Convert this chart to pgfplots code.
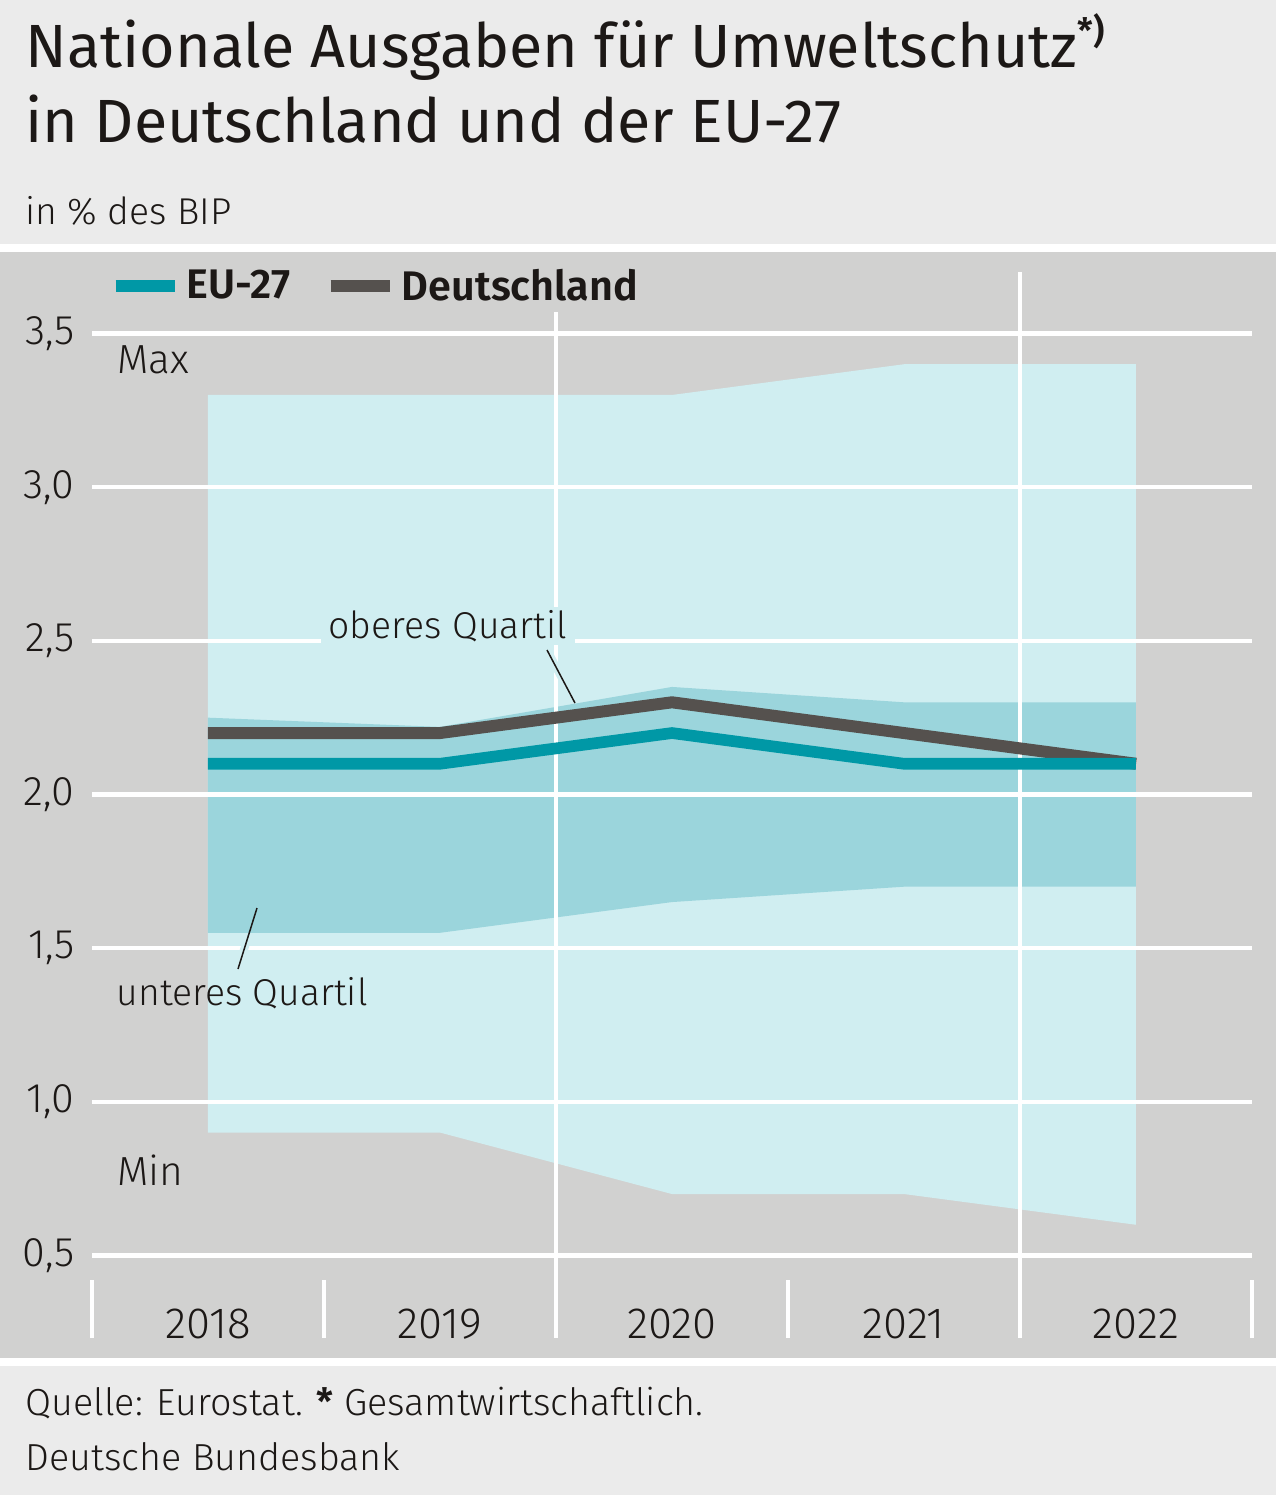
\documentclass[border=0pt]{standalone}
\usepackage{fontspec}
\setmainfont{Fira Sans}[UprightFont={* Light}, BoldFont={* SemiBold}]
\newfontfamily\titlefont{Fira Sans}[BoldFont={* SemiBold}]
\newfontfamily\legfont{Fira Sans}[UprightFont={* SemiBold}]
\usepackage{pgfplots}
\pgfplotsset{compat=1.18}
\definecolor{topbg}{RGB}{235,235,235}
\definecolor{plotbg}{RGB}{209,209,208}
\definecolor{lightband}{RGB}{208,238,241}
\definecolor{darkband}{RGB}{155,213,220}
\definecolor{euteal}{RGB}{0,152,166}
\definecolor{degray}{RGB}{85,81,78}
\definecolor{txt}{RGB}{28,24,22}
\begin{document}
\begin{tikzpicture}
\begin{scope}[x=0.3pt,y=-0.3pt]
\fill[topbg] (0,0) rectangle (1276,1495);
\fill[white] (0,244) rectangle (1276,252);
\fill[plotbg] (0,252) rectangle (1276,1358);
\fill[white] (0,1358) rectangle (1276,1366);
\end{scope}
\begin{axis}[
  at={(27.6pt,-376.65pt)}, anchor=south west,
  width=348pt, height=276.6pt, scale only axis,
  xmin=-0.5, xmax=4.5, ymin=0.5, ymax=3.5,
  clip=false,
  axis line style={draw=none},
  major tick length=0pt, tick style={draw=none},
  xtick={0,1,2,3,4}, xticklabels={2018,2019,2020,2021,2022},
  ytick={0.5,1,1.5,2,2.5,3,3.5},
  yticklabels={{0,5},{1,0},{1,5},{2,0},{2,5},{3,0},{3,5}},
  /pgf/number format/assume math mode=true,
  xticklabel style={anchor=base, yshift=-24.9pt, inner sep=0pt, font=\fontsize{13.1pt}{14pt}\selectfont, text=txt},
  yticklabel style={anchor=east, inner sep=0pt, xshift=-5.1pt, font=\fontsize{12.4pt}{13pt}\selectfont, text=txt},
  legend columns=2,
  legend image code/.code={\draw[#1, line width=3.4pt] (0pt,0.35pt) -- (17.7pt,0.35pt);},
  legend style={at={(axis description cs:0.0149,1.0228)}, anchor=south west,
    draw=none, fill=plotbg, inner xsep=0pt, inner ysep=0pt,
    font=\legfont\fontsize{12.4pt}{14pt}\selectfont, text=txt,
    nodes={inner sep=2pt},
    /tikz/every even column/.append style={column sep=8.4pt}},
]
% Min/Max band
\addplot[fill=lightband, draw=none, forget plot] coordinates {(0,3.3) (1,3.3) (2,3.3) (3,3.4) (4,3.4) (4,0.6) (3,0.7) (2,0.7) (1,0.9) (0,0.9)};
% quartile band
\addplot[fill=darkband, draw=none, forget plot] coordinates {(0,2.25) (1,2.22) (2,2.35) (3,2.3) (4,2.3) (4,1.7) (3,1.7) (2,1.65) (1,1.55) (0,1.55)};
% grid
\draw[white, line width=1.35pt] (axis cs:-0.5,0.5) -- (axis cs:4.5,0.5);
\draw[white, line width=1.35pt] (axis cs:-0.5,1.0) -- (axis cs:4.5,1.0);
\draw[white, line width=1.35pt] (axis cs:-0.5,1.5) -- (axis cs:4.5,1.5);
\draw[white, line width=1.35pt] (axis cs:-0.5,2.0) -- (axis cs:4.5,2.0);
\draw[white, line width=1.35pt] (axis cs:-0.5,2.5) -- (axis cs:4.5,2.5);
\draw[white, line width=1.35pt] (axis cs:-0.5,3.0) -- (axis cs:4.5,3.0);
\draw[white, line width=1.35pt] (axis cs:-0.5,3.5) -- (axis cs:4.5,3.5);
\draw[white, line width=1.35pt] (axis cs:1.5,0.2316) -- (axis cs:1.5,3.70);
\draw[white, line width=1.35pt] (axis cs:3.5,0.2316) -- (axis cs:3.5,3.70);
\draw[white, line width=1.2pt] (axis cs:-0.5,0.2316) -- (axis cs:-0.5,0.420);
\draw[white, line width=1.2pt] (axis cs:0.5,0.2316) -- (axis cs:0.5,0.420);
\draw[white, line width=1.2pt] (axis cs:2.5,0.2316) -- (axis cs:2.5,0.420);
\draw[white, line width=1.2pt] (axis cs:4.5,0.2316) -- (axis cs:4.5,0.420);
% lines
\addplot[degray, line width=3.6pt, forget plot] coordinates {(0,2.2) (1,2.2) (2,2.3) (3,2.2) (4,2.1)};
\addplot[euteal, line width=3.5pt, forget plot] coordinates {(0,2.1) (1,2.1) (2,2.2) (3,2.1) (4,2.1)};
\addlegendimage{euteal}
\addlegendentry{EU-27}
\addlegendimage{degray}
\addlegendentry{Deutschland}
\end{axis}
\begin{scope}[x=0.3pt,y=-0.3pt, every node/.style={anchor=base west, inner sep=0pt, text=txt}]
\node[font=\titlefont\fontsize{18.3pt}{22pt}\selectfont] at (25,67) {Nationale Ausgaben für Umweltschutz\raisebox{7.2pt}{\fontsize{10.5pt}{11pt}\selectfont\bfseries *)}};
\node[font=\titlefont\fontsize{18.3pt}{22pt}\selectfont] at (25,142) {in Deutschland und der EU-27};
\node[font=\fontsize{11.2pt}{13pt}\selectfont] at (25,224) {in \% des BIP};
\node[font=\fontsize{12.2pt}{14pt}\selectfont] at (117,373) {Max};
\node[font=\fontsize{12.2pt}{14pt}\selectfont] at (117,1185) {Min};
\node[font=\fontsize{11.2pt}{14pt}\selectfont, fill=lightband, inner xsep=2.4pt, inner ysep=1pt] at (320,638) {oberes Quartil};
\node[font=\fontsize{11.2pt}{14pt}\selectfont] at (116,1005) {unteres Quartil};
\draw[lightband, line width=2.4pt, shorten <=-1pt, shorten >=3pt] (547,650) -- (575,703);
\draw[txt, line width=0.45pt] (547,650) -- (575,703);
\draw[lightband, line width=2.4pt] (247,940) -- (242,956);
\draw[txt, line width=0.45pt] (257,908) -- (238,969);
\node[font=\fontsize{11.3pt}{14pt}\selectfont] at (25,1415) {Quelle: Eurostat. {\bfseries *} Gesamtwirtschaftlich.};
\node[font=\fontsize{11.3pt}{14pt}\selectfont] at (25,1470) {Deutsche Bundesbank};
\end{scope}
\end{tikzpicture}
\end{document}
